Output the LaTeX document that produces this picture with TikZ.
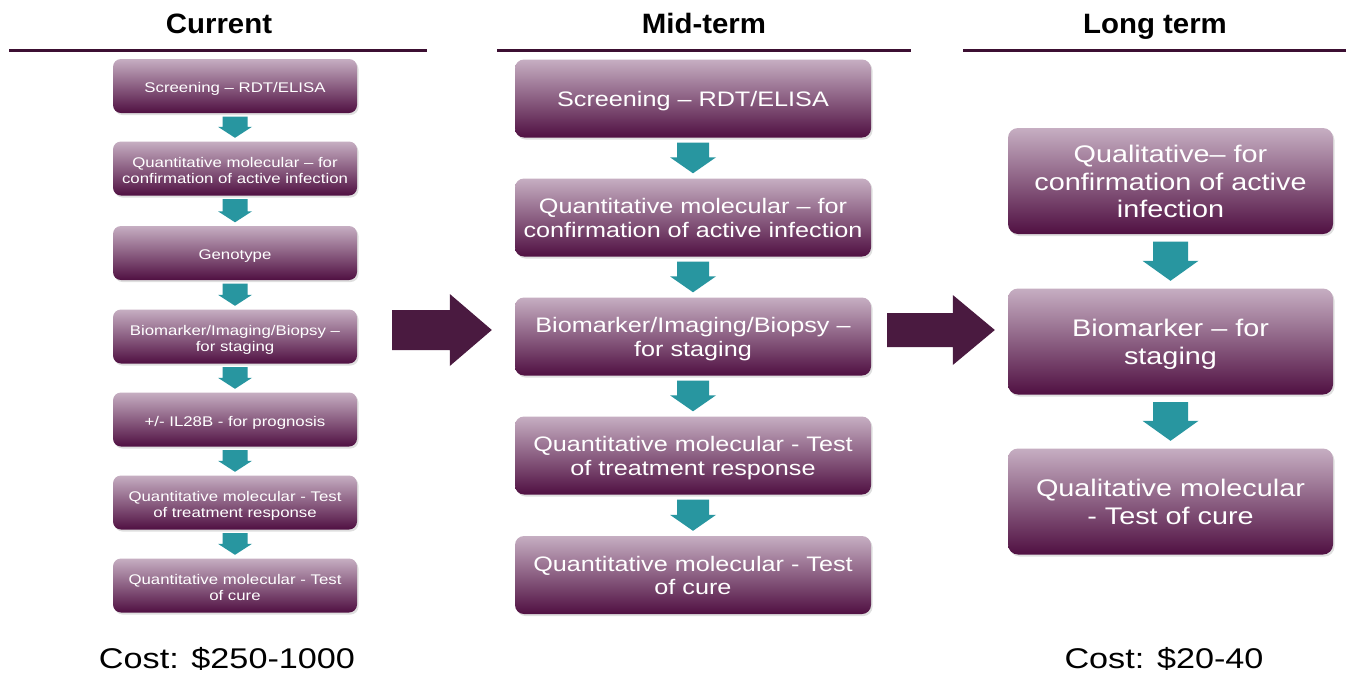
\documentclass[tikz,border=0pt]{standalone}
\usepackage{fontspec}
\setmainfont[FakeStretch=1.2]{Liberation Sans}
\newfontfamily\headfont[FakeStretch=1.05]{Liberation Sans}
\usetikzlibrary{calc,shadows}
\definecolor{boxtop}{RGB}{198,174,194}
\definecolor{boxbot}{RGB}{80,16,66}
\definecolor{tealc}{RGB}{40,150,160}
\definecolor{bigarr}{RGB}{74,26,64}
\definecolor{rulec}{RGB}{60,15,50}
\newcommand\bt[1]{\raisebox{-3.5pt}[\height][\depth]{\begin{tabular}{@{}c@{}}#1\end{tabular}}}
\tikzset{
  gbox/.style={rectangle, rounded corners=8pt, top color=boxtop, bottom color=boxbot,
    text=white, align=center, inner sep=2pt,
    drop shadow={opacity=0.25, shadow xshift=1.5pt, shadow yshift=-2pt}},
  lbox/.style={gbox, minimum width=244pt, minimum height=54pt, font=\fontsize{14}{16}\selectfont},
  mbox/.style={gbox, rounded corners=9pt, minimum width=356pt, minimum height=78pt, font=\fontsize{21}{23.5}\selectfont},
  rbox/.style={gbox, rounded corners=10pt, minimum width=325pt, minimum height=106pt, font=\fontsize{24}{27.5}\selectfont},
  heading/.style={anchor=base, font=\headfont\bfseries\fontsize{28}{30}\selectfont, inner sep=0pt},
  costlbl/.style={anchor=base, font=\fontsize{28.5}{32}\selectfont, inner sep=0pt},
  hrule/.style={draw=rulec, line width=3pt}
}
% teal down arrow between two boxes: #1 from, #2 to, #3 half body, #4 half head, #5 head length, #6 gap
\newcommand\tarrow[6]{%
  \fill[tealc] let \p1=(#1.south), \p2=(#2.north) in
    (\x1-#3pt,\y1-#6pt) -- (\x1+#3pt,\y1-#6pt) -- (\x1+#3pt,\y2+#6pt+#5pt)
    -- (\x1+#4pt,\y2+#6pt+#5pt) -- (\x1,\y2+#6pt) -- (\x1-#4pt,\y2+#6pt+#5pt)
    -- (\x1-#3pt,\y2+#6pt+#5pt) -- cycle;}
% big right arrow: #1 from, #2 to, #3 gap from, #4 gap to, #5 half body, #6 half head, #7 head length, #8 y offset
\newcommand\barrow[8]{%
  \fill[bigarr] let \p1=(#1.east), \p2=(#2.west) in
    (\x1+#3pt,\y1+#8pt+#5pt) -- (\x2-#4pt-#7pt,\y1+#8pt+#5pt) -- (\x2-#4pt-#7pt,\y1+#8pt+#6pt)
    -- (\x2-#4pt,\y1+#8pt) -- (\x2-#4pt-#7pt,\y1+#8pt-#6pt) -- (\x2-#4pt-#7pt,\y1+#8pt-#5pt)
    -- (\x1+#3pt,\y1+#8pt-#5pt) -- cycle;}
\begin{document}
\begin{tikzpicture}[x=1pt,y=-1pt]
\useasboundingbox (0,0) rectangle (1354,673);
\fill[white] (0,0) rectangle (1354,673);
% headings
\node[heading] (h1) at (219,33) {Current};
\node[heading] (h2) at (704,33) {Mid-term};
\node[heading] (h3) at (1155,33) {Long term};
\draw[hrule] (9,50) -- (427,50);
\draw[hrule] (497,50) -- (911,50);
\draw[hrule] (963,50) -- (1346,50);
% left column
\node[lbox] (L1) at (235,86) {\bt{Screening -- RDT/ELISA}};
\node[lbox] (L2) at (235,168.5) {\bt{Quantitative molecular -- for\\confirmation of active infection}};
\node[lbox] (L3) at (235,253) {\bt{Genotype}};
\node[lbox] (L4) at (235,336.5) {\bt{Biomarker/Imaging/Biopsy --\\for staging}};
\node[lbox] (L5) at (235,419.5) {\bt{+/- IL28B - for prognosis}};
\node[lbox] (L6) at (235,502.5) {\bt{Quantitative molecular - Test\\of treatment response}};
\node[lbox] (L7) at (235,585.5) {\bt{Quantitative molecular - Test\\of cure}};
\tarrow{L1}{L2}{12.5}{17}{11}{3.5}
\tarrow{L2}{L3}{12.5}{17}{11}{3.5}
\tarrow{L3}{L4}{12.5}{17}{11}{3.5}
\tarrow{L4}{L5}{12.5}{17}{11}{3.5}
\tarrow{L5}{L6}{12.5}{17}{11}{3.5}
\tarrow{L6}{L7}{12.5}{17}{11}{3.5}
% middle column
\node[mbox] (M1) at (693,98.5) {\bt{Screening -- RDT/ELISA}};
\node[mbox] (M2) at (693,217.5) {\bt{Quantitative molecular -- for\\confirmation of active infection}};
\node[mbox] (M3) at (693,336.5) {\bt{Biomarker/Imaging/Biopsy --\\for staging}};
\node[mbox] (M4) at (693,455.5) {\bt{Quantitative molecular - Test\\of treatment response}};
\node[mbox] (M5) at (693,575) {\bt{Quantitative molecular - Test\\of cure}};
\tarrow{M1}{M2}{16}{23}{16}{5}
\tarrow{M2}{M3}{16}{23}{16}{5}
\tarrow{M3}{M4}{16}{23}{16}{5}
\tarrow{M4}{M5}{16}{23}{16}{5}
% right column
\node[rbox] (R1) at (1170.5,181) {\bt{Qualitative-- for\\confirmation of active\\infection}};
\node[rbox] (R2) at (1170.5,341.5) {\bt{Biomarker -- for\\staging}};
\node[rbox] (R3) at (1170.5,501.5) {\bt{Qualitative molecular\\- Test of cure}};
\tarrow{R1}{R2}{17.5}{28}{20}{7.5}
\tarrow{R2}{R3}{17.5}{28}{20}{7.5}
% big arrows
\barrow{L4}{M3}{35}{23}{20}{36}{42}{6.5}
\barrow{M3}{R2}{16}{13}{17}{35}{42}{6.5}
% costs
\node[costlbl] (c1) at (227,668) {Cost: \$250-1000};
\node[costlbl] (c2) at (1164,668) {Cost: \$20-40};
\end{tikzpicture}
\end{document}
